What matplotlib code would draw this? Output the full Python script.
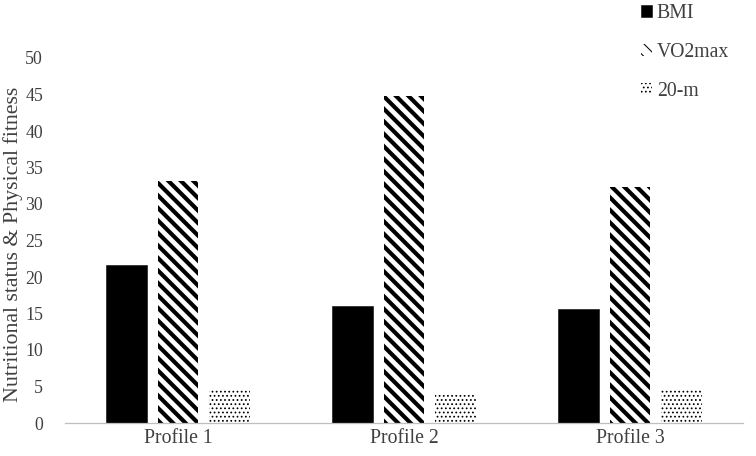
import matplotlib
matplotlib.use("Agg")
import matplotlib.pyplot as plt
import numpy as np

categories = ["Profile 1", "Profile 2", "Profile 3"]
bmi = [21.6, 16.0, 15.6]
vo2max = [33.2, 44.8, 32.3]
twenty_m = [4.5, 3.9, 4.5]
series_names = ["BMI", "VO2max", "20-m"]
yticks = [0, 5, 10, 15, 20, 25, 30, 35, 40, 45, 50]

DPI = 75
plt.rcParams['font.family'] = ['Liberation Serif', 'DejaVu Serif']

fig = plt.figure(figsize=(756 / DPI, 456 / DPI), dpi=DPI)
ax = fig.add_axes([65 / 756, 33 / 456, 678 / 756, 365 / 456])

x = np.arange(len(categories))
w = 0.181
step = 0.226

plt.rcParams['hatch.linewidth'] = 1.0
b1 = ax.bar(x - step, bmi, w, color='black', edgecolor='black', linewidth=0.5, label=series_names[0])
plt.rcParams['hatch.linewidth'] = 4.0
b2 = ax.bar(x, vo2max, w, color='white', edgecolor='black', linewidth=0, hatch='\\\\', label=series_names[1])
plt.rcParams['hatch.linewidth'] = 1.0
b3 = ax.bar(x + step, twenty_m, w, color='white', edgecolor='black', linewidth=0, hatch='...', label=series_names[2])

for p in b2.patches:
    if hasattr(p, 'set_hatch_linewidth'):
        p.set_hatch_linewidth(4.0)
for p in b3.patches:
    if hasattr(p, 'set_hatch_linewidth'):
        p.set_hatch_linewidth(1.0)

ax.set_xlim(-0.5, 2.5)
ax.set_ylim(0, 50)
ax.set_yticks(yticks)
ax.set_xticks(x)
ax.set_xticklabels(categories)
for s in ['top', 'right', 'left']:
    ax.spines[s].set_visible(False)
ax.spines['bottom'].set_color('#bfbfbf')
ax.spines['bottom'].set_linewidth(1.2)
ax.tick_params(axis='y', length=0, labelsize=17, colors='#404040', pad=21)
ax.tick_params(axis='x', length=0, labelsize=19, colors='#404040', pad=6)
ax.set_ylabel("Nutritional status & Physical fitness", fontsize=21, color='#404040')
ax.yaxis.set_label_coords(-42 / 678, 0.49)

leg = fig.legend(handles=[b1, b2, b3], loc='upper left', bbox_to_anchor=(623 / 756, 1.03),
                 frameon=False, fontsize=19, handlelength=0.55, handleheight=0.55,
                 handletextpad=0.25, labelspacing=1.0)
for t in leg.get_texts():
    t.set_color('#404040')

fig.savefig("out.png", dpi=DPI)
